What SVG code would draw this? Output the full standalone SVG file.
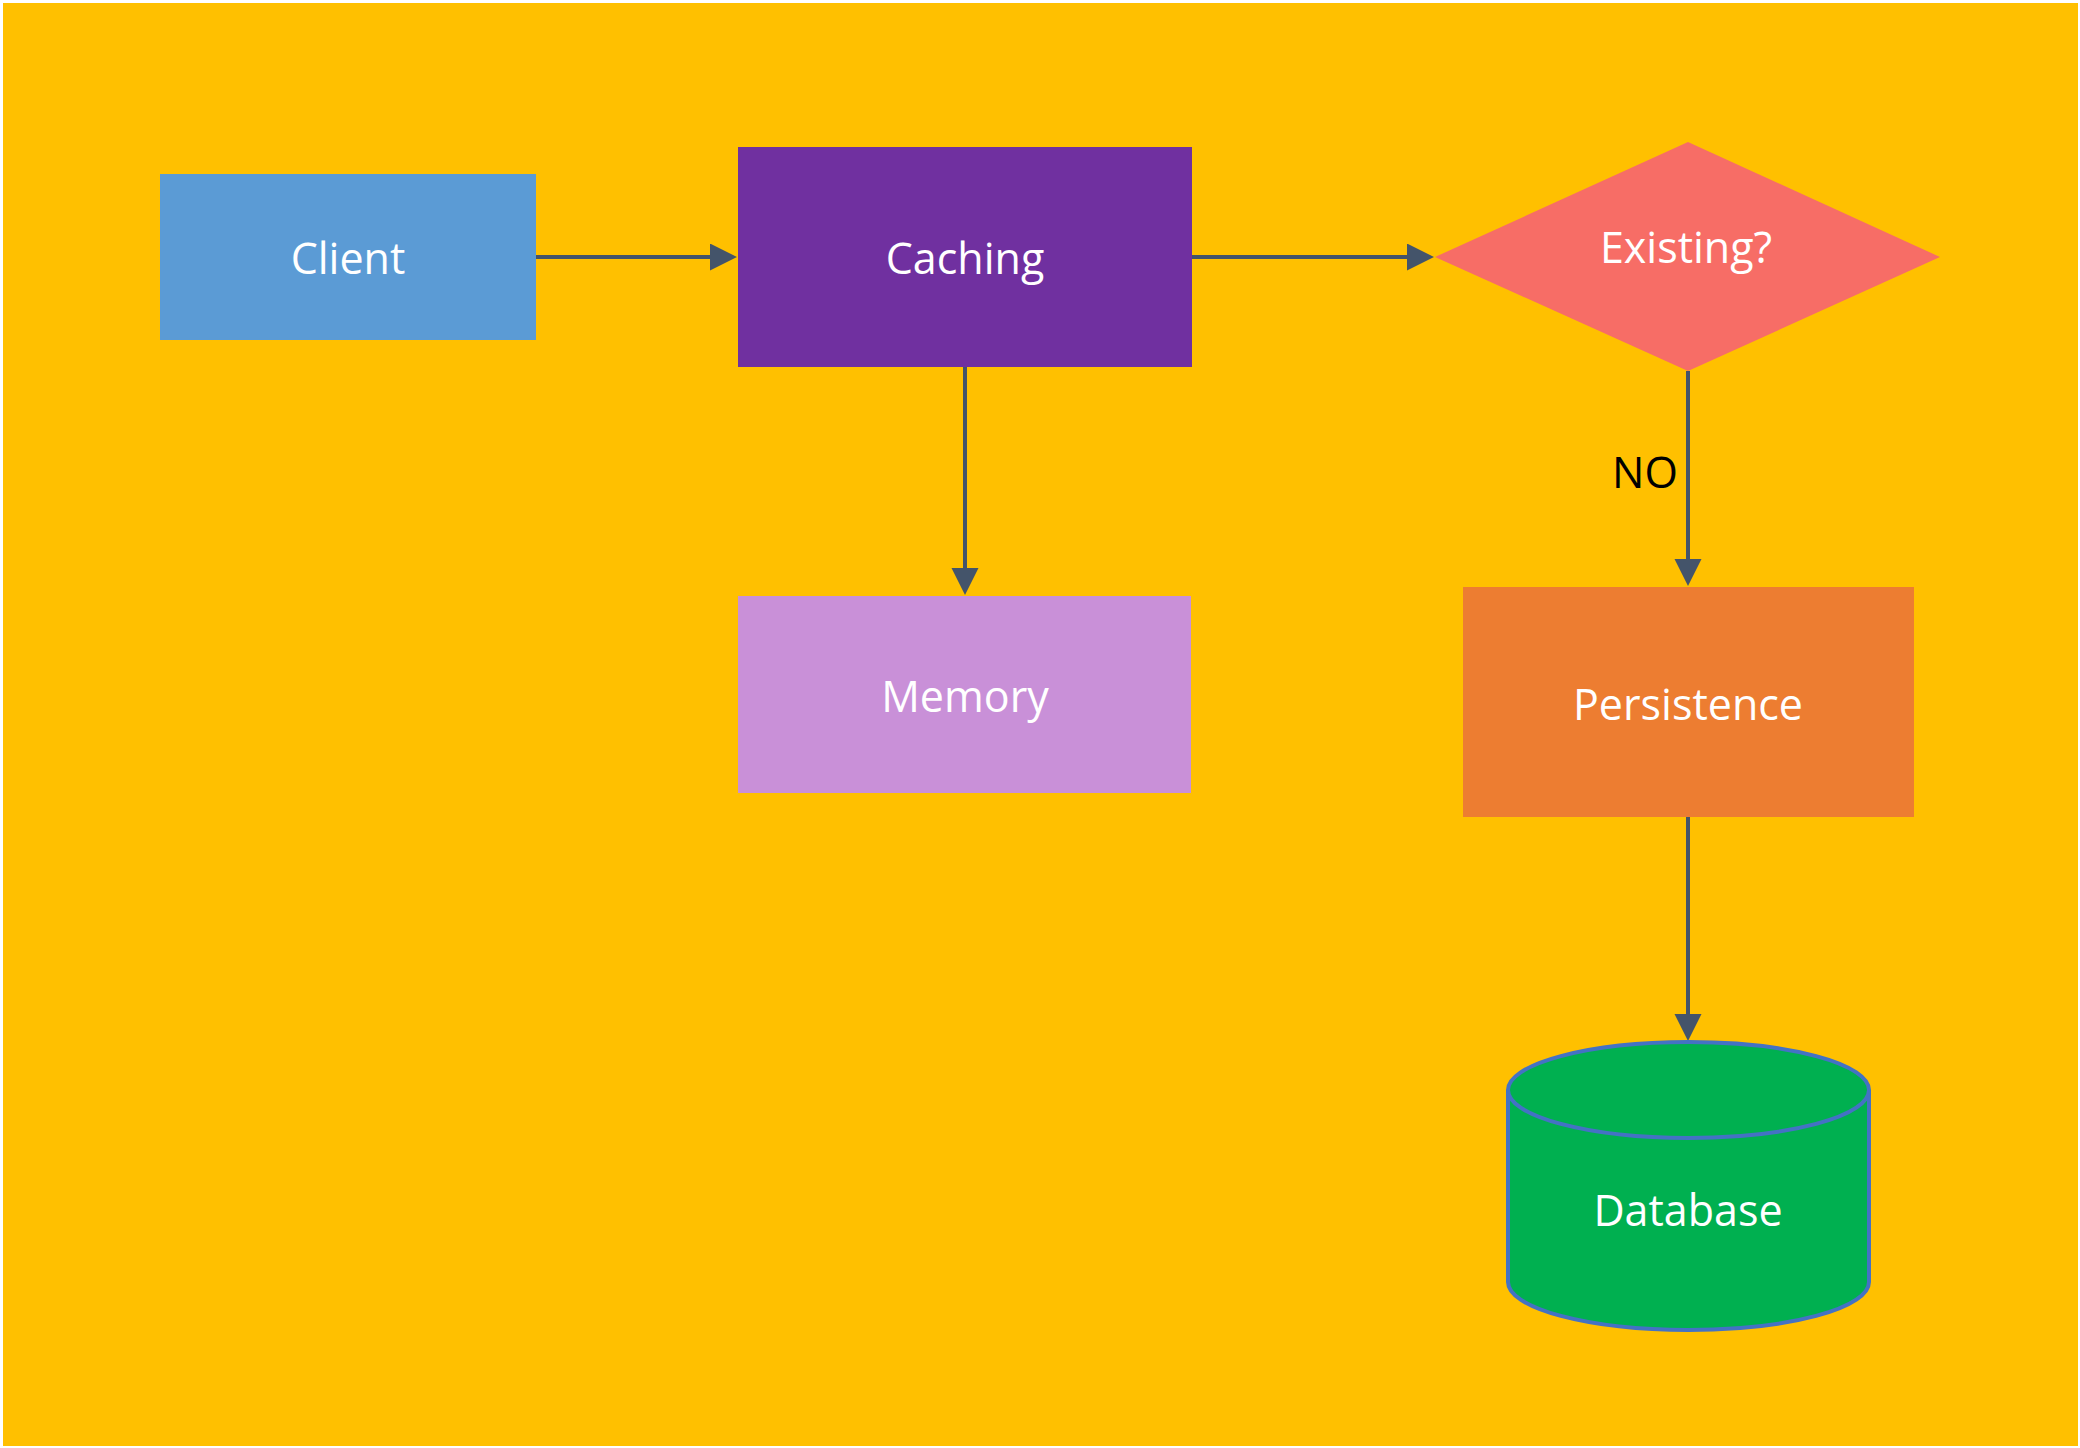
<svg xmlns="http://www.w3.org/2000/svg" width="2080" height="1448" viewBox="0 0 2080 1448">
  <defs>
    <style>
      .lbl { font-family: "Open Sans", "Noto Sans", "DejaVu Sans", sans-serif; font-size: 43px; fill: #FFFFFF; text-anchor: middle; }
      .elbl { font-family: "Open Sans", "Noto Sans", "DejaVu Sans", sans-serif; font-size: 43px; fill: #000000; text-anchor: middle; }
      .conn { fill: none; stroke: #44546A; stroke-width: 4; marker-end: url(#arrow); }
    </style>
    <marker id="arrow" markerUnits="userSpaceOnUse" markerWidth="28" markerHeight="28" viewBox="0 0 28 28" refX="1" refY="13.5" orient="auto">
      <path d="M0,0 L27,13.5 L0,27 Z" fill="#44546A"/>
    </marker>
  </defs>
  <rect x="0" y="0" width="2080" height="1448" fill="#FFFFFF"/>
  <rect id="background" x="3" y="3" width="2075" height="1443" fill="#FFC000"/>

  <g id="connectors">
    <path class="conn" d="M536,257 H711"/>
    <path class="conn" d="M1192,257 H1408"/>
    <path class="conn" d="M965,367 V569"/>
    <path class="conn" d="M1688,371 V560"/>
    <path class="conn" d="M1688,817 V1015"/>
    <text class="elbl" x="1645" y="488">NO</text>
  </g>

  <g id="client">
    <rect x="160" y="174" width="376" height="166" fill="#5B9BD5"/>
    <text class="lbl" x="348" y="274">Client</text>
  </g>

  <g id="caching">
    <rect x="738" y="147" width="454" height="220" fill="#7030A0"/>
    <text class="lbl" x="965" y="274">Caching</text>
  </g>

  <g id="existing">
    <polygon points="1435,257 1688,142 1940,257 1688,371" fill="#F76D66"/>
    <text class="lbl" x="1686" y="263">Existing?</text>
  </g>

  <g id="memory">
    <rect x="738" y="596" width="453" height="197" fill="#C990D8"/>
    <text class="lbl" x="965" y="712">Memory</text>
  </g>

  <g id="persistence">
    <rect x="1463" y="587" width="451" height="230" fill="#ED7D31"/>
    <text class="lbl" x="1688" y="720">Persistence</text>
  </g>

  <g id="database">
    <path d="M1508,1090 A180.5,48 0 0 1 1869,1090 V1282 A180.5,48 0 0 1 1508,1282 Z" fill="#00B050" stroke="#4472C4" stroke-width="4"/>
    <path d="M1508,1090 A180.5,48 0 0 0 1869,1090" fill="none" stroke="#4472C4" stroke-width="4"/>
    <text class="lbl" x="1688" y="1226">Database</text>
  </g>
</svg>
